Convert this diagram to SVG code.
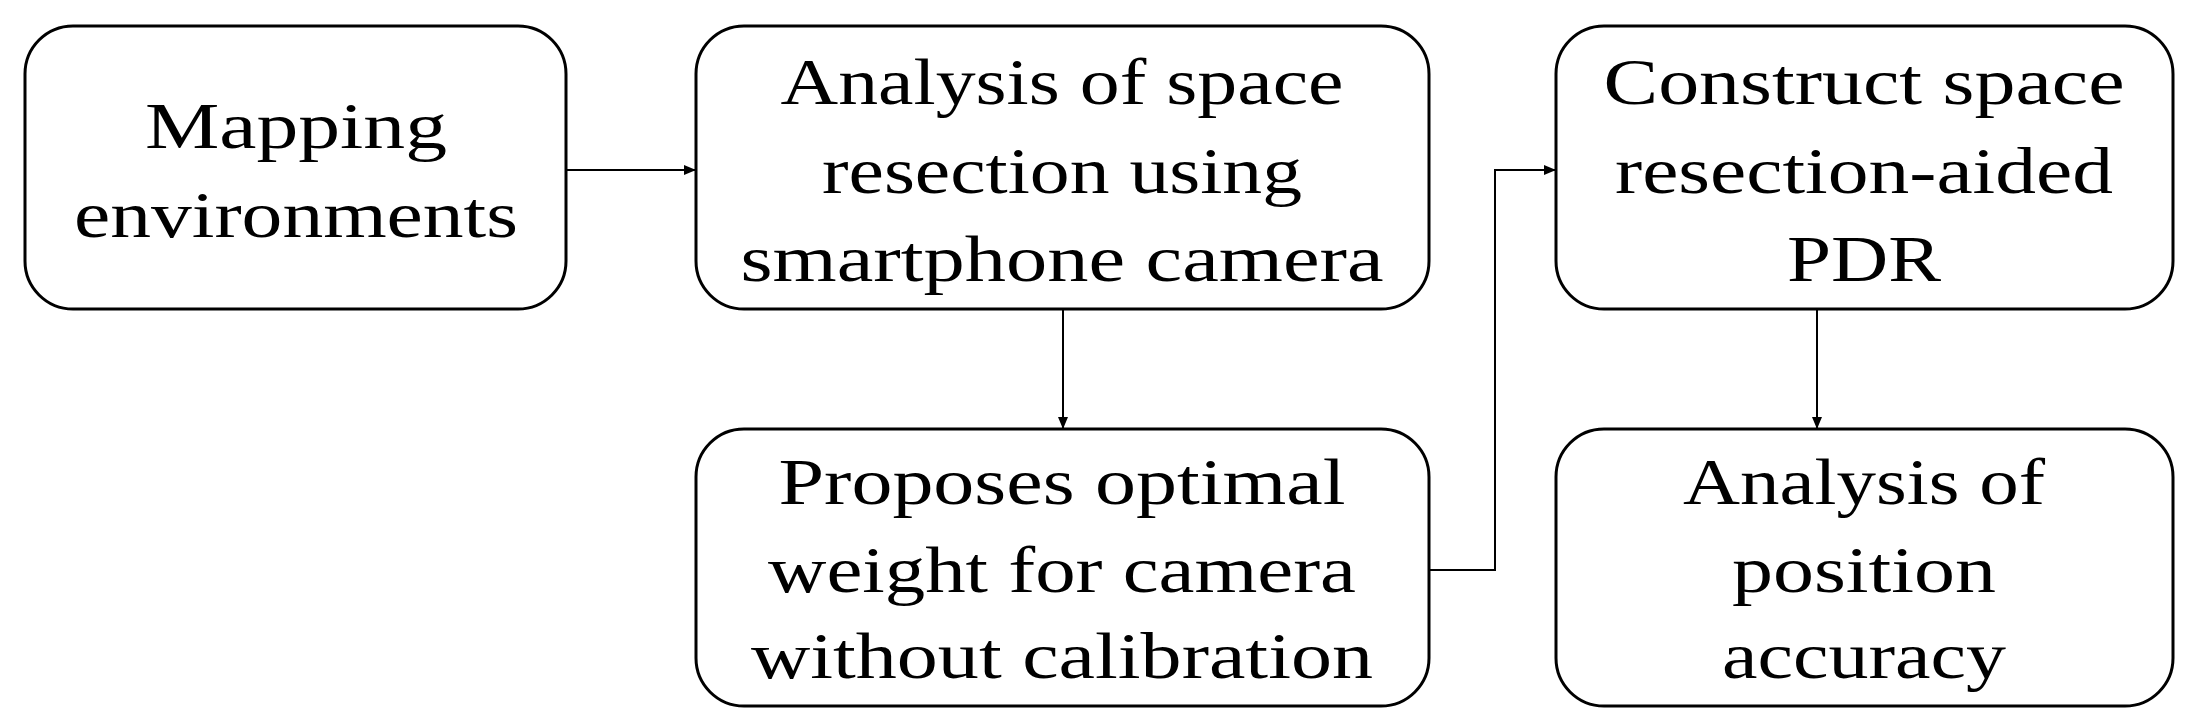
<svg xmlns="http://www.w3.org/2000/svg" width="2201" height="728" viewBox="0 0 2201 728">
<style>
.b{fill:#fff;stroke:#000;stroke-width:3}
text{font-family:"Liberation Serif",serif;font-size:66px;text-anchor:middle;fill:#000}
.c{fill:none;stroke:#000;stroke-width:2}
</style>
<defs><marker id="a" markerWidth="12" markerHeight="10" refX="11" refY="5" orient="auto" markerUnits="userSpaceOnUse"><path d="M0,0L12,5L0,10z"/></marker></defs>
<rect width="2201" height="728" fill="#fff"/>
<g id="n1"><rect class="b" x="25" y="26" width="541" height="283" rx="48"/>
<text x="296" y="148" textLength="302" lengthAdjust="spacingAndGlyphs">Mapping</text>
<text x="296" y="237" textLength="444" lengthAdjust="spacingAndGlyphs">environments</text></g>
<g id="n2"><rect class="b" x="696" y="26" width="733" height="283" rx="48"/>
<text x="1062" y="104" textLength="563" lengthAdjust="spacingAndGlyphs">Analysis of space</text>
<text x="1062" y="193" textLength="480" lengthAdjust="spacingAndGlyphs">resection using</text>
<text x="1062" y="281" textLength="643" lengthAdjust="spacingAndGlyphs">smartphone camera</text></g>
<g id="n3"><rect class="b" x="1556" y="26" width="617" height="283" rx="48"/>
<text x="1864" y="104" textLength="521" lengthAdjust="spacingAndGlyphs">Construct space</text>
<text x="1864" y="193" textLength="498" lengthAdjust="spacingAndGlyphs">resection-aided</text>
<text x="1864" y="281" textLength="154" lengthAdjust="spacingAndGlyphs">PDR</text></g>
<g id="n4"><rect class="b" x="696" y="429" width="733" height="277" rx="48"/>
<text x="1062" y="504" textLength="567" lengthAdjust="spacingAndGlyphs">Proposes optimal</text>
<text x="1062" y="592" textLength="588" lengthAdjust="spacingAndGlyphs">weight for camera</text>
<text x="1062" y="678" textLength="622" lengthAdjust="spacingAndGlyphs">without calibration</text></g>
<g id="n5"><rect class="b" x="1556" y="429" width="617" height="277" rx="48"/>
<text x="1864" y="504" textLength="362" lengthAdjust="spacingAndGlyphs">Analysis of</text>
<text x="1864" y="592" textLength="264" lengthAdjust="spacingAndGlyphs">position</text>
<text x="1864" y="678" textLength="284" lengthAdjust="spacingAndGlyphs">accuracy</text></g>
<g id="connectors">
<path class="c" d="M566,170H695" marker-end="url(#a)"/>
<path class="c" d="M1063,309V428" marker-end="url(#a)"/>
<path class="c" d="M1429,570H1495V170H1555" marker-end="url(#a)"/>
<path class="c" d="M1817,309V428" marker-end="url(#a)"/>
</g>
</svg>
